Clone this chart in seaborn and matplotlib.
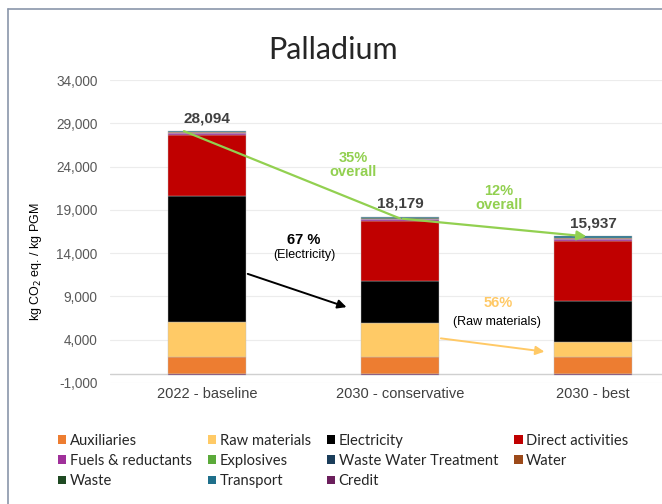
import matplotlib
matplotlib.use("Agg")
from matplotlib import pyplot as plt
from matplotlib.patches import Patch
from matplotlib.lines import Line2D
import seaborn as sns
import numpy as np

# data
scenarios = ["2022 - baseline", "2030 - conservative", "2030 - best"]
totals = [28094, 18179, 15937]

auxiliaries = [2000, 2000, 2030]
raw_materials = [4000, 3960, 1670]
electricity = [14600, 4780, 4800]
direct_activities = [7100, 7000, 6930]
fuels_reductants = [180, 180, 200]
explosives = [20, 20, 20]
waste_water = [30, 30, 40]
water = [20, 20, 20]
waste = [60, 60, 80]
transport = [114, 159, 177]
credit = [-30, -30, -30]

categories = ["Auxiliaries", "Raw materials", "Electricity", "Direct activities",
              "Fuels & reductants", "Explosives", "Waste Water Treatment", "Water",
              "Waste", "Transport", "Credit"]
series = [auxiliaries, raw_materials, electricity, direct_activities,
          fuels_reductants, explosives, waste_water, water, waste, transport, credit]
colors = ["#ED7D31", "#FFCA66", "#000000", "#C00000",
          "#A0309A", "#5BAA3A", "#1B3D5A", "#9C4A1A",
          "#1F4A22", "#1F6F8B", "#6B1F5C"]

sns.set_style("white")
plt.rcParams['font.family'] = ['Liberation Sans', 'DejaVu Sans']

fig = plt.figure(figsize=(6.62, 5.04), dpi=100)
ax = fig.add_axes([110/662, 1 - 383/504, 552/662, 303/504])

# stacked bars
pos_bottom = np.zeros(3)
for name, vals, col in zip(categories, series, colors):
    vals = np.array(vals, dtype=float)
    if vals[0] < 0:
        bottom = np.zeros(3)
    else:
        bottom = pos_bottom.copy()
        pos_bottom += vals
    sns.barplot(x=scenarios, y=vals, bottom=bottom, color=col, width=0.4,
                saturation=1, errorbar=None, edgecolor="#bfbfbf", linewidth=0.3, ax=ax)

ax.set_xlim(-0.503, 2.357)
ax.set_ylim(-1000, 34000)
yt = np.arange(-1000, 34001, 5000)
ax.set_yticks(yt)
ax.set_yticklabels([f"{v:,}" for v in yt], fontsize=9.8, color="#595959")
ax.tick_params(axis="x", labelsize=10.5, colors="#404040", length=0, pad=3)
ax.tick_params(axis="y", length=0, pad=9)
for v in yt:
    ax.axhline(v, color="#ececec", lw=0.8, zorder=0)
ax.axhline(0, color="#d0d0d0", lw=1, zorder=0.5)
for s in ax.spines.values():
    s.set_visible(False)
ax.set_xlabel("")
ax.set_ylabel("kg CO$_2$ eq. / kg PGM", fontsize=9, color="#000000")
ax.yaxis.set_label_coords(-0.12, 0.40)

# totals
for i, t in enumerate(totals):
    ax.text(i, t + 700, f"{t:,}", ha="center", va="bottom",
            fontsize=11, fontweight="bold", color="#404040")

# overall trend arrow
green = "#92D050"
ax.plot([-0.12, 1.0], [28094, 18000], color=green, lw=1.6, zorder=5)
ax.annotate("", xy=(1.98, 15900), xytext=(1.0, 18000),
            arrowprops=dict(arrowstyle="-|>", color=green, lw=1.6, mutation_scale=14),
            zorder=5)
ax.text(0.756, 24200, "35%\noverall", ha="center", va="center", fontsize=10.5,
        fontweight="bold", color=green, linespacing=1.0)
ax.text(1.513, 20370, "12%\noverall", ha="center", va="center", fontsize=10.5,
        fontweight="bold", color=green, linespacing=1.0)

# electricity arrow
ax.annotate("", xy=(0.736, 7663), xytext=(0.197, 11706),
            arrowprops=dict(arrowstyle="-|>", color="black", lw=1.4, mutation_scale=13))
ax.text(0.5, 15518, "67 %", ha="center", va="center", fontsize=10.5,
        fontweight="bold", color="black")
ax.text(0.505, 13785, "(Electricity)", ha="center", va="center", fontsize=9, color="black")

# raw materials arrow
yellow = "#FFC966"
ax.annotate("", xy=(1.762, 2581), xytext=(1.197, 4198),
            arrowprops=dict(arrowstyle="-|>", color=yellow, lw=1.4, mutation_scale=13))
ax.text(1.508, 8241, "56%", ha="center", va="center", fontsize=10.5,
        fontweight="bold", color=yellow)
ax.text(1.503, 6046, "(Raw materials)", ha="center", va="center", fontsize=9, color="black")

# title
fig.text(333/662, 1 - 50/504, "Palladium", ha="center", va="center",
         fontsize=22, family=["Lato", "DejaVu Sans"])

# legend (row-wise order)
order = [0, 4, 8, 1, 5, 9, 2, 6, 10, 3, 7]
handles = [Patch(facecolor=colors[k], edgecolor="none") for k in order]
labels = [categories[k] for k in order]
fig.legend(handles, labels, ncol=4, loc="upper left",
           bbox_to_anchor=(52/662, 1 - 428/504), frameon=False,
           prop={"family": ["Lato", "DejaVu Sans"], "size": 10.6},
           handlelength=0.55, handleheight=0.55, handletextpad=0.25,
           columnspacing=1.1, labelspacing=0.42, borderaxespad=0)

# outer frame (cut at right / bottom)
fig.add_artist(Line2D([8/662, 8/662], [0, 1 - 9/504], transform=fig.transFigure,
                      color="#8a96aa", lw=1.2))
fig.add_artist(Line2D([8/662, 1], [1 - 9/504, 1 - 9/504], transform=fig.transFigure,
                      color="#8a96aa", lw=1.2))

fig.savefig("out.png", dpi=100)
